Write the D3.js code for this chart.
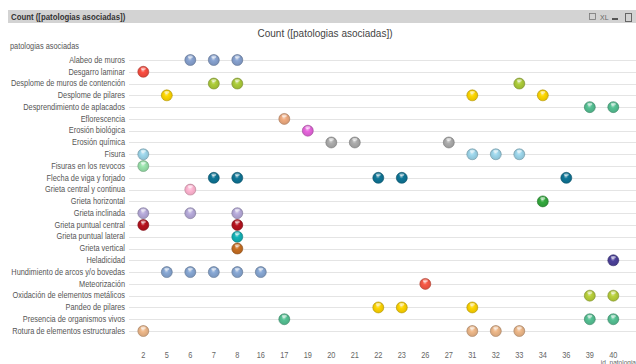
<!DOCTYPE html>
<html>
<head>
<meta charset="utf-8">
<script src="https://cdn.jsdelivr.net/npm/d3@7/dist/d3.min.js"></script>
<style>
  html, body { margin: 0; padding: 0; background: #fff; }
  svg { display: block; }
  text { font-family: "Liberation Sans", Arial, sans-serif; }
</style>
</head>
<body>
<svg id="chart" width="636" height="364"></svg>
<script>
// id_patologia values along the x axis
const ids = [2, 5, 6, 7, 8, 16, 17, 19, 20, 21, 22, 23, 26, 27, 31, 32, 33, 34, 36, 39, 40];

// patologias asociadas (one row each)
const patologias = [
  "Alabeo de muros",
  "Desgarro laminar",
  "Desplome de muros de contención",
  "Desplome de pilares",
  "Desprendimiento de aplacados",
  "Eflorescencia",
  "Erosión biológica",
  "Erosión química",
  "Fisura",
  "Fisuras en los revocos",
  "Flecha de viga y forjado",
  "Grieta central y continua",
  "Grieta horizontal",
  "Grieta inclinada",
  "Grieta puntual central",
  "Grieta puntual lateral",
  "Grieta vertical",
  "Heladicidad",
  "Hundimiento de arcos y/o bovedas",
  "Meteorización",
  "Oxidación de elementos metálicos",
  "Pandeo de pilares",
  "Presencia de organismos vivos",
  "Rotura de elementos estructurales"
];

// ids where each patología is present (Count = 1)
const presentIn = [
  [6, 7, 8],
  [2],
  [7, 8, 33],
  [5, 31, 34],
  [39, 40],
  [17],
  [19],
  [20, 21, 27],
  [2, 31, 32, 33],
  [2],
  [7, 8, 22, 23, 36],
  [6],
  [34],
  [2, 6, 8],
  [2, 8],
  [8],
  [8],
  [40],
  [5, 6, 7, 8, 16],
  [26],
  [39, 40],
  [22, 23, 31],
  [17, 39, 40],
  [2, 31, 32, 33]
];

// colour per patología
const palette = [
  "#7b93bd", "#e2463a", "#9cb934", "#e9c300", "#4daf86", "#d99b74",
  "#d15cc8", "#9c9c9c", "#8fc3d6", "#8ccf9c", "#0d6a88", "#eda5bf",
  "#2f9a38", "#a69bc7", "#a5111c", "#10a2a6", "#b5641e", "#453b8c",
  "#7b98c0", "#e0503f", "#a7bd35", "#e8c100", "#4daf86", "#d8a77d"
];

const svg = d3.select("#chart");
const W = 636, H = 364;
const SX = 0.87; // horizontal condensing of the narrow UI font

// condensed text anchored at (x, y)
function label(parent, x, y, str, opts) {
  const t = parent.append("text")
    .attr("transform", `translate(${x},${y}) scale(${SX},1)`)
    .attr("font-size", opts.size).attr("fill", opts.fill || "#555")
    .attr("text-anchor", opts.anchor || "start")
    .text(str);
  if (opts.bold) t.attr("font-weight", "bold");
  return t;
}

// caption bar
svg.append("rect").attr("x", 8).attr("y", 10).attr("width", W - 8).attr("height", 13)
  .attr("fill", "#d3d3d3");
label(svg, 11, 20, "Count ([patologias asociadas])", { size: 9, bold: true, fill: "#333" });

// caption icons
const icons = svg.append("g");
icons.append("rect").attr("x", 589.5).attr("y", 13.5).attr("width", 6).attr("height", 6)
  .attr("fill", "none").attr("stroke", "#777").attr("stroke-width", 0.8);
label(icons, 600, 20, "XL", { size: 8, fill: "#666" });
icons.append("rect").attr("x", 612).attr("y", 18).attr("width", 6).attr("height", 2).attr("fill", "#555");
icons.append("rect").attr("x", 625.5).attr("y", 13.5).attr("width", 6).attr("height", 8)
  .attr("fill", "none").attr("stroke", "#666").attr("stroke-width", 1);

// chart title
label(svg, 325, 37, "Count ([patologias asociadas])", { size: 11.5, fill: "#444", anchor: "middle" });
label(svg, 10, 49, "patologias asociadas", { size: 8.5, fill: "#555" });

// scales
const x = d3.scaleBand().domain(ids).range([131.55, 625.05]);
const y = d3.scaleBand().domain(patologias).range([54.1, 336.9]);
const cx = d => x(d) + x.bandwidth() / 2;
const cy = d => y(d) + y.bandwidth() / 2;

// gridlines through every row
svg.append("g").selectAll("line").data(patologias).join("line")
  .attr("x1", 129).attr("x2", W)
  .attr("y1", d => Math.round(cy(d)) + 0.5).attr("y2", d => Math.round(cy(d)) + 0.5)
  .attr("stroke", "#e4e4e4").attr("stroke-width", 1);

// y axis labels
const yAxis = d3.axisLeft(y).tickSize(0).tickPadding(0);
const yg = svg.append("g").attr("transform", `translate(125,0) scale(${SX},1)`).call(yAxis);
yg.select(".domain").remove();
yg.selectAll("text").attr("font-size", 8.5).attr("fill", "#555")
  .attr("font-family", "'Liberation Sans', Arial, sans-serif");

// x axis labels, condensed around each tick
const xAxis = d3.axisBottom(x).tickSize(0).tickPadding(0);
const xg = svg.append("g").attr("transform", "translate(0,352)").call(xAxis);
xg.select(".domain").remove();
xg.selectAll(".tick text").attr("font-size", 8.5).attr("fill", "#666")
  .attr("font-family", "'Liberation Sans', Arial, sans-serif")
  .attr("transform", `scale(${SX},1)`);

label(svg, 636, 365, "id_patologia", { size: 7.5, fill: "#666", anchor: "end" });

// spherical shading per colour
const defs = svg.append("defs");
palette.forEach((c, i) => {
  const base = d3.color(c);
  const g = defs.append("radialGradient").attr("id", "ball" + i)
    .attr("cx", "50%").attr("cy", "55%").attr("r", "55%")
    .attr("fx", "45%").attr("fy", "30%");
  g.append("stop").attr("offset", "0%").attr("stop-color", d3.interpolateRgb(c, "#fff")(0.7));
  g.append("stop").attr("offset", "35%").attr("stop-color", base.brighter(0.3).formatHex());
  g.append("stop").attr("offset", "80%").attr("stop-color", c);
  g.append("stop").attr("offset", "100%").attr("stop-color", base.darker(0.9).formatHex());
});

// points
const pts = [];
patologias.forEach((p, i) => presentIn[i].forEach(id => pts.push({ p, id, i })));

const balls = svg.append("g").selectAll("g").data(pts).join("g")
  .attr("transform", d => `translate(${cx(d.id)},${cy(d.p)})`);
balls.append("circle").attr("r", 5.5)
  .attr("fill", d => `url(#ball${d.i})`)
  .attr("stroke", d => d3.color(palette[d.i]).darker(0.6).formatHex())
  .attr("stroke-width", 0.6);
balls.append("ellipse").attr("cx", 0).attr("cy", -3).attr("rx", 2.6).attr("ry", 1.4)
  .attr("fill", "#fff").attr("opacity", 0.55);
</script>
</body>
</html>
